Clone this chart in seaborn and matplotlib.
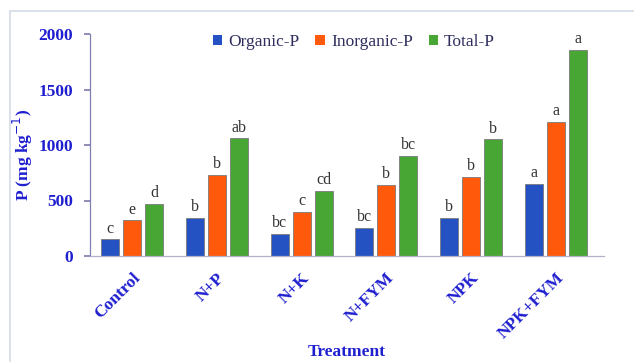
import matplotlib
matplotlib.use("Agg")
import matplotlib.pyplot as plt
import seaborn as sns
import pandas as pd
from matplotlib.patches import Patch
from matplotlib.lines import Line2D

treatments = ["Control", "N+P", "N+K", "N+FYM", "NPK", "NPK+FYM"]
series = ["Organic-P", "Inorganic-P", "Total-P"]
organic = [150, 340, 200, 250, 340, 650]
inorganic = [320, 730, 400, 640, 710, 1210]
total = [470, 1060, 590, 900, 1050, 1860]
organic_letters = ["c", "b", "bc", "bc", "b", "a"]
inorganic_letters = ["e", "b", "c", "b", "b", "a"]
total_letters = ["d", "ab", "cd", "bc", "b", "a"]
y_ticks = [0, 500, 1000, 1500, 2000]

colors = ["#2452c2", "#ff5a0c", "#48a634"]
tick_blue = "#1f1fd0"

rows = []
for s, vals in zip(series, [organic, inorganic, total]):
    for t, v in zip(treatments, vals):
        rows.append({"Treatment": t, "Series": s, "P": v})
df = pd.DataFrame(rows)

sns.set_theme(style="white")
plt.rcParams['font.family'] = ['Liberation Serif', 'DejaVu Serif']

fig = plt.figure(figsize=(6.34, 3.62), dpi=100)
ax = fig.add_axes([90 / 634, 1 - 256 / 362, (604 - 90) / 634, (256 - 34) / 362])

sns.barplot(data=df, x="Treatment", y="P", hue="Series", order=treatments,
            hue_order=series, palette=colors, width=0.78, gap=0.18,
            edgecolor="#7a7a7a", linewidth=0.6, ax=ax, legend=False,
            errorbar=None, saturation=1)

for cont, letters in zip(ax.containers, [organic_letters, inorganic_letters, total_letters]):
    for bar, lab in zip(cont, letters):
        ax.text(bar.get_x() + bar.get_width() / 2, bar.get_height() + 25, lab,
                ha="center", va="bottom", fontsize=11.5, color="#333333",
                clip_on=False)

ax.set_ylim(0, 2000)
ax.set_xlim(-0.5, 5.57)
ax.set_yticks(y_ticks)
ax.set_yticklabels([str(v) for v in y_ticks], fontsize=12.5, fontweight="bold", color=tick_blue)
ax.set_xticks(range(len(treatments)))
ax.set_xticklabels(treatments, rotation=45, ha="right", rotation_mode="anchor",
                   fontsize=12.5, fontweight="bold", color=tick_blue)
ax.tick_params(axis="y", left=True, length=4, color="#8080b0", pad=8)
ax.tick_params(axis="x", bottom=False, pad=4)

for side in ["top", "right"]:
    ax.spines[side].set_visible(False)
ax.spines["left"].set_color("#8080b0")
ax.spines["bottom"].set_color("#b0b0c8")
ax.spines["left"].set_linewidth(0.9)
ax.spines["bottom"].set_linewidth(0.9)

ax.set_ylabel("P (mg kg$^{-1}$)", fontsize=12.5, fontweight="bold", color=tick_blue,
              va="center", ha="center")
ax.yaxis.set_label_coords(-(90 - 23) / 514, (256 - 155) / 222)
ax.set_xlabel("Treatment", fontsize=12.5, fontweight="bold", color=tick_blue, va="center")
ax.xaxis.set_label_coords(0.5, -(352 - 256) / (256 - 34))

handles = [Patch(facecolor=c, edgecolor="none") for c in colors]
leg = fig.legend(handles, series, loc="center", bbox_to_anchor=(354 / 634, 1 - 42 / 362),
                 ncol=3, frameon=False, handlelength=0.55, handleheight=0.55,
                 handletextpad=0.35, columnspacing=0.9, fontsize=12.5)
for t in leg.get_texts():
    t.set_color("#2e2e5e")

# outer chart frame (left and top edges visible)
fig.add_artist(Line2D([10 / 634, 10 / 634], [0, 1 - 11 / 362], transform=fig.transFigure,
                      color="#d3dbe8", linewidth=1.2))
fig.add_artist(Line2D([10 / 634, 1], [1 - 11 / 362, 1 - 11 / 362], transform=fig.transFigure,
                      color="#d3dbe8", linewidth=1.2))

fig.savefig("out.png", dpi=100)
